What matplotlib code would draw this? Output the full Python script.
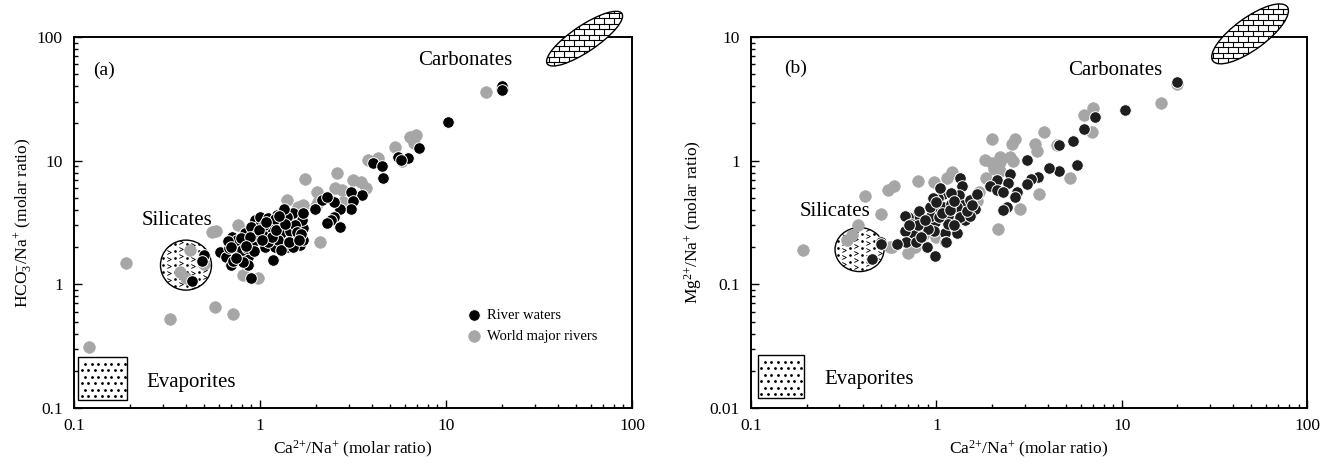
import numpy as np
import matplotlib
matplotlib.use("Agg")
import matplotlib.pyplot as plt
from matplotlib.patches import Ellipse, Rectangle
from matplotlib.transforms import Affine2D, ScaledTranslation
from matplotlib.lines import Line2D

plt.rcParams['font.family'] = ['Liberation Serif', 'DejaVu Serif']
plt.rcParams['mathtext.fontset'] = 'custom'
plt.rcParams['mathtext.rm'] = 'Liberation Serif'
plt.rcParams['mathtext.it'] = 'Liberation Serif:italic'
plt.rcParams['mathtext.bf'] = 'Liberation Serif:bold'

# ---------------- data ----------------
# Panel (a): Ca/Na vs HCO3/Na
a_river_ca = [20, 20, 10.3, 7.16, 6.27, 5.55, 5.7, 4.03, 4.55, 4.6, 3.55, 3.07, 3.18, 3.07, 2.69,
              2.5, 2.15, 2.28, 1.98, 2.5, 2.42, 2.28, 2.69,
              0.61, 0.66, 0.70, 0.71, 0.72, 0.76, 0.78, 0.83, 0.86, 0.86, 0.90, 0.81, 0.94, 1.0,
              0.97, 1.0, 1.11, 1.11, 1.06, 1.18, 1.23, 1.28, 1.20, 1.33, 1.39, 1.51, 1.39, 1.48,
              1.54, 1.64, 1.71, 1.68, 1.30, 1.13, 1.04, 0.90,
              0.5, 0.49, 0.43,
              0.68, 0.75, 0.8, 0.92, 1.15, 1.25, 1.45, 1.6, 1.7, 1.05, 1.2, 1.4, 1.1, 1.55, 0.95,
              1.3, 1.5, 0.72, 1.35, 1.7,
              0.67, 0.74, 0.79, 0.85, 0.88, 0.93, 0.99, 1.08, 1.16, 1.22, 1.36, 1.44, 1.58, 1.66,
              0.70, 0.84, 1.02, 1.26, 1.62]
a_river_hco3 = [40, 37, 20.7, 12.6, 10.6, 10.8, 10.2, 9.5, 9.1, 7.2, 5.27, 5.6, 4.74, 4.1, 4.1,
                4.65, 4.8, 5.05, 4.1, 3.52, 3.3, 3.11, 2.92,
                1.83, 1.67, 1.43, 2.43, 2.14, 1.78, 2.14, 2.58, 1.67, 1.43, 1.12, 1.51, 3.31, 3.01,
                2.28, 3.52, 3.42, 2.43, 2.01, 1.57, 3.63, 3.2, 2.01, 3.86, 2.92, 3.75, 2.01, 2.43,
                2.28, 2.08, 2.84, 3.31, 2.58, 2.58, 2.66, 2.92,
                1.72, 1.55, 1.07,
                1.95, 2.3, 1.9, 2.2, 2.9, 2.3, 2.7, 2.5, 2.3, 3.0, 3.4, 3.5, 2.2, 3.0, 2.5,
                1.9, 2.0, 1.55, 4.1, 3.8,
                2.25, 1.62, 2.35, 1.95, 2.4, 1.85, 2.75, 3.2, 2.4, 2.75, 3.1, 2.2, 2.65, 2.55,
                2.0, 2.05, 2.3, 3.55, 2.3]

a_world_ca = [0.12, 0.19, 0.33, 0.57, 0.72, 0.37, 0.4, 0.42, 0.5, 0.55, 0.58, 0.76, 0.81, 0.98,
              1.39, 1.75, 2.02, 2.58, 2.53, 2.75, 2.10, 3.18, 3.5, 3.7, 3.83, 4.3, 5.3, 6.4, 6.9,
              6.7, 1.61, 2.05, 2.8, 16.5, 20, 1.7, 2.0, 5.8]
a_world_hco3 = [0.31, 1.5, 0.52, 0.66, 0.58, 1.25, 1.12, 1.9, 1.45, 2.66, 2.7, 3.0, 1.19, 1.12,
                4.8, 7.06, 5.6, 7.96, 5.97, 5.8, 2.21, 6.97, 6.7, 6.0, 10.1, 10.6, 12.9, 15.6, 16.1,
                13.9, 4.2, 4.65, 4.65, 36, 38, 4.4, 4.3, 10.0]

# Panel (b): Ca/Na vs Mg/Na
b_river_ca = [19.8, 10.4, 7.18, 6.3, 5.48, 4.59, 5.73, 4.6, 4.06, 3.55, 3.23, 3.07, 3.07, 2.5,
              2.13, 1.95, 2.12, 2.45, 2.3, 2.72, 2.66, 2.40, 2.3,
              1.34, 1.37, 1.32, 1.09, 1.02, 0.96, 1.09, 1.15, 1.40, 1.52, 1.65, 1.62, 1.43, 1.29,
              1.11, 1.11, 1.16, 0.98, 0.966, 0.85, 0.77, 0.70, 0.68, 0.81, 0.75, 0.68, 0.69, 0.78,
              0.89, 0.98, 0.61, 0.50, 0.94, 1.03, 0.92, 0.96, 1.29, 1.34, 1.52, 0.45, 0.5, 1.2,
              1.25, 0.9, 1.05, 1.2,
              0.73, 0.80, 0.87, 1.0, 1.07, 1.18, 1.24, 1.46, 1.56, 0.71, 0.83, 1.13]
b_river_mg = [4.35, 2.56, 2.26, 1.80, 1.44, 1.34, 0.92, 0.82, 0.88, 0.74, 0.71, 0.65, 1.01, 0.78,
              0.70, 0.62, 0.58, 0.66, 0.56, 0.56, 0.51, 0.42, 0.40,
              0.72, 0.62, 0.53, 0.54, 0.50, 0.42, 0.42, 0.36, 0.44, 0.48, 0.54, 0.41, 0.33, 0.26,
              0.26, 0.22, 0.31, 0.32, 0.27, 0.31, 0.35, 0.35, 0.36, 0.39, 0.26, 0.27, 0.22, 0.22,
              0.20, 0.17, 0.21, 0.22, 0.36, 0.35, 0.42, 0.50, 0.42, 0.35, 0.36, 0.16, 0.21, 0.45,
              0.30, 0.28, 0.60, 0.55,
              0.31, 0.30, 0.33, 0.46, 0.38, 0.40, 0.47, 0.39, 0.44, 0.30, 0.24, 0.22]

b_world_ca = [0.19, 0.33, 0.35, 0.38, 0.41, 0.5, 0.55, 0.59, 0.56, 0.70, 0.77, 0.80, 0.97, 1.14,
              1.21, 1.85, 1.82, 2.0, 2.05, 2.2, 2.2, 2.2, 1.99, 2.5, 2.6, 2.56, 2.66, 3.42, 3.5,
              3.83, 6.3, 7.0, 6.9, 16.3, 20, 3.6, 5.27, 2.84, 2.16, 1.65, 0.58, 1.7, 1.0, 0.85, 4.5]
b_world_mg = [0.19, 0.23, 0.25, 0.30, 0.52, 0.37, 0.58, 0.62, 0.20, 0.18, 0.20, 0.68, 0.67, 0.72,
              0.81, 0.73, 1.01, 0.95, 0.86, 0.83, 0.98, 1.07, 1.5, 1.08, 1.0, 1.36, 1.51, 1.36, 1.2,
              1.72, 2.35, 2.65, 1.69, 2.9, 4.2, 0.54, 0.72, 0.41, 0.28, 0.47, 0.2, 0.56, 0.24, 0.25, 1.35]

legend_labels = ["River waters", "World major rivers"]
x_ticks = [0.1, 1, 10, 100]
a_y_ticks = [0.1, 1, 10, 100]
b_y_ticks = [0.01, 0.1, 1, 10]

BLACK_A = '#000000'
BLACK_B = '#1e1e1e'
GRAY = '#a6a6a6'
MS = 70

fig = plt.figure(figsize=(13.33, 4.68), dpi=100)
ax_a = fig.add_axes([74 / 1333, 60 / 468, 558 / 1333, 371 / 468])
ax_b = fig.add_axes([751 / 1333, 60 / 468, 556 / 1333, 371 / 468])

PX = Affine2D().scale(1 / 100.0) + fig.dpi_scale_trans


def pix_trans(ax, cx, cy):
    return PX + ScaledTranslation(cx, cy, ax.transData)


def carbonate(ax, cx, cy, w, h, ang):
    tr = pix_trans(ax, cx, cy)
    ell = Ellipse((0, 0), w, h, angle=ang, transform=tr, facecolor='white',
                  edgecolor='black', lw=1.0, clip_on=False, zorder=5)
    ax.add_patch(ell)
    R = int(max(w, h) / 2) + 6
    dy = 5.5
    bw = 10.0
    ys = np.arange(-R, R + dy, dy)
    for i, y0 in enumerate(ys):
        ln = Line2D([-R, R], [y0, y0], transform=tr, color='black', lw=0.8, zorder=6)
        ln.set_clip_path(ell)
        ax.add_artist(ln)
        off = 0 if i % 2 == 0 else bw / 2
        xs = np.arange(-R + off, R, bw)
        for x0 in xs:
            vl = Line2D([x0, x0], [y0, y0 + dy], transform=tr, color='black', lw=0.8, zorder=6)
            vl.set_clip_path(ell)
            ax.add_artist(vl)


def silicate(ax, cx, cy, w, h):
    tr = pix_trans(ax, cx, cy)
    ell = Ellipse((0, 0), w, h, transform=tr, facecolor='white', edgecolor='black',
                  lw=1.0, zorder=1)
    ax.add_patch(ell)
    R = int(max(w, h) / 2) + 4
    gx, gy = [], []
    dx_, dy_ = [], []
    for j, y0 in enumerate(np.arange(-R, R, 7.0)):
        for k, x0 in enumerate(np.arange(-R, R, 6.0)):
            xx = x0
            if k % 2 == 0:
                gx.append(xx); gy.append(y0 + (3.5 if k % 4 == 0 else 0))
            else:
                dx_.append(xx); dy_.append(y0 + 1.5)
    l1 = Line2D(gx, gy, transform=tr, ls='none', marker='$>$', ms=3.0, color='black',
                markeredgewidth=0.25, zorder=2)
    l1.set_clip_path(ell)
    ax.add_artist(l1)
    l2 = Line2D(dx_, dy_, transform=tr, ls='none', marker='o', ms=0.9, color='black', zorder=2)
    l2.set_clip_path(ell)
    ax.add_artist(l2)


def evaporite(ax, x0, x1, y0, y1):
    rect = Rectangle((x0, y0), x1 - x0, y1 - y0, facecolor='white', edgecolor='black',
                     lw=1.0, zorder=1)
    ax.add_patch(rect)
    tr0 = ax.transData
    p0 = tr0.transform((x0, y0))
    p1 = tr0.transform((x1, y1))
    w = p1[0] - p0[0]
    h = p1[1] - p0[1]
    cx = np.sqrt(x0 * x1)
    cy = np.sqrt(y0 * y1)
    tr = pix_trans(ax, cx, cy)
    xs, ys = [], []
    for j, yy in enumerate(np.arange(-h / 2 + 3.5, h / 2 - 1.5, 6.5)):
        for xx in np.arange(-w / 2 + 3.5 + (3.3 if j % 2 else 0), w / 2 - 1.5, 6.6):
            xs.append(xx); ys.append(yy)
    ax.add_artist(Line2D(xs, ys, transform=tr, ls='none', marker='o', ms=1.0,
                         color='black', zorder=2))


def style(ax, yticks, ylabel, ylim, ylabelpad):
    ax.set_xscale('log')
    ax.set_yscale('log')
    ax.set_xlim(0.1, 100)
    ax.set_ylim(*ylim)
    ax.set_xticks(x_ticks)
    ax.set_xticklabels(['%g' % t for t in x_ticks])
    ax.set_yticks(yticks)
    ax.set_yticklabels(['%g' % t for t in yticks])
    ax.tick_params(which='both', direction='in', top=False, right=False, labelsize=12.5,
                   width=1.0)
    ax.tick_params(which='major', length=6)
    ax.tick_params(which='minor', length=3)
    ax.tick_params(axis='x', pad=7)
    ax.tick_params(axis='y', pad=8)
    for s in ax.spines.values():
        s.set_linewidth(1.4)
    ax.set_xlabel('Ca$^{2{+}}$/Na$^{{+}}$ (molar ratio)', fontsize=12.5, labelpad=4)
    ax.set_ylabel(ylabel, fontsize=12.5, labelpad=ylabelpad)


style(ax_a, a_y_ticks, 'HCO$_3^{{-}}$/Na$^{{+}}$ (molar ratio)', (0.1, 100), 2)
style(ax_b, b_y_ticks, 'Mg$^{2{+}}$/Na$^{{+}}$ (molar ratio)', (0.01, 10), 4)
fig.canvas.draw()

# ------------- panel (a) -------------
evaporite(ax_a, 0.1054, 0.192, 0.117, 0.258)
silicate(ax_a, 0.40, 1.43, 51, 50)
sw = ax_a.scatter(a_world_ca, a_world_hco3, s=MS, c=GRAY, edgecolors=GRAY, linewidths=0.5,
                  zorder=3, label=legend_labels[1])
sr = ax_a.scatter(a_river_ca, a_river_hco3, s=MS, c=BLACK_A, edgecolors='white', linewidths=0.7,
                  zorder=4, label=legend_labels[0])
carbonate(ax_a, 55.6, 97, 90, 26, 34)
ax_a.text(0.145, 54, '(a)', fontsize=14, ha='center', va='center')
ax_a.text(12.7, 65, 'Carbonates', fontsize=15, ha='center', va='center')
ax_a.text(0.357, 3.31, 'Silicates', fontsize=15, ha='center', va='center')
ax_a.text(0.424, 0.161, 'Evaporites', fontsize=15, ha='center', va='center')
ax_a.legend(handles=[sr, sw], labels=legend_labels, loc='center left',
            bbox_to_anchor=(0.703, 0.221), frameon=False, fontsize=10.5,
            handlelength=1.0, handletextpad=0.45, borderpad=0, borderaxespad=0,
            labelspacing=0.55, scatterpoints=1)

# ------------- panel (b) -------------
evaporite(ax_b, 0.109, 0.193, 0.0121, 0.027)
silicate(ax_b, 0.385, 0.191, 49, 44)
ax_b.scatter(b_world_ca, b_world_mg, s=MS, c=GRAY, edgecolors=GRAY, linewidths=0.5, zorder=3)
ax_b.scatter(b_river_ca, b_river_mg, s=MS, c=BLACK_B, edgecolors='white', linewidths=0.7, zorder=4)
carbonate(ax_b, 49.3, 10.6, 92, 32, 36)
ax_b.text(0.173, 5.55, '(b)', fontsize=14, ha='center', va='center')
ax_b.text(9.2, 5.38, 'Carbonates', fontsize=15, ha='center', va='center')
ax_b.text(0.284, 0.387, 'Silicates', fontsize=15, ha='center', va='center')
ax_b.text(0.434, 0.0169, 'Evaporites', fontsize=15, ha='center', va='center')

fig.savefig('out.png', dpi=100)
